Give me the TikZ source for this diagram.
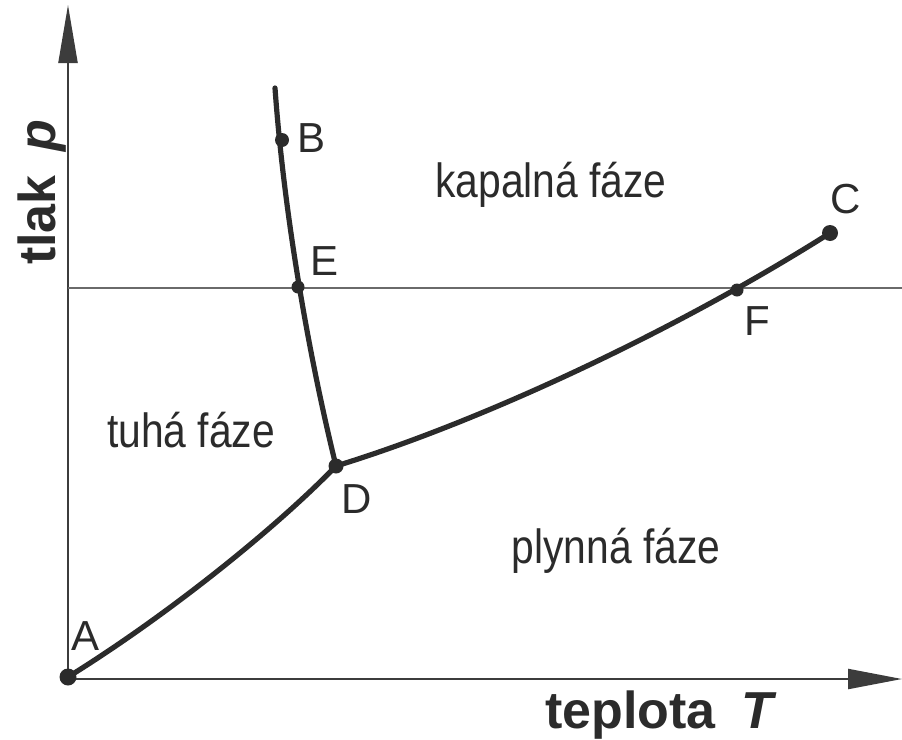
\documentclass[tikz,border=0pt]{standalone}
\usepackage{fontspec}
\setmainfont{Liberation Sans}
\newfontfamily\regfont[FakeStretch=0.85]{Liberation Sans}
\usetikzlibrary{arrows.meta}
\definecolor{ink}{HTML}{2B2B2B}
\definecolor{axisgrey}{HTML}{3C3C3C}
\definecolor{isogrey}{HTML}{6A6A6A}
\tikzset{
  dot/.style={circle,fill=ink,inner sep=0pt,minimum size=#1},
  dot/.default=14pt,
  phase/.style={draw=ink,line width=5.2pt,line cap=round},
  axisline/.style={draw=axisgrey,line width=2.2pt},
  ptlabel/.style={text=ink,inner sep=0pt,anchor=base,font=\fontsize{42}{48}\selectfont},
  region/.style={text=ink,inner sep=0pt,anchor=base,font=\regfont\fontsize{48}{54}\selectfont},
  axlabel/.style={text=ink,inner sep=0pt,font=\bfseries\fontsize{52}{58}\selectfont}
}
\begin{document}
\begin{tikzpicture}[x=1pt,y=-1pt]
\useasboundingbox (0,0) rectangle (902,739);
% axes
\coordinate (O) at (68,679);
\coordinate (xend) at (902,679);
\coordinate (yend) at (68,5);
\draw[axisline,-{Triangle[length=54pt,width=20pt]}] (O) -- (xend);
\draw[axisline,-{Triangle[length=58pt,width=19pt]}] (O) -- (yend);
% isobar
\coordinate (hl) at (68,288);
\coordinate (hr) at (902,288);
\draw[draw=isogrey,line width=2.2pt] (hl) -- (hr);
% curve points
\coordinate (pA) at (68,677);
\coordinate (pD) at (336,466);
\coordinate (pF) at (737,290);
\coordinate (pC) at (830,233);
\coordinate (btop) at (275,88);
\coordinate (pB) at (282,140);
\coordinate (pE) at (298,287);
% phase boundaries
\draw[phase] (pA) .. controls (168,615) and (276,528) .. (pD);
\draw[phase] (pD) .. controls (486,420) and (680,328) .. (pC);
\draw[phase] (btop) .. controls (283,200) and (305,340) .. (pD);
% points
\node[dot=17pt] (A) at (pA) {};
\node[dot=14pt] (B) at (pB) {};
\node[dot=16pt] (C) at (pC) {};
\node[dot=15pt] (D) at (pD) {};
\node[dot=13pt] (E) at (pE) {};
\node[dot=13pt] (F) at (pF) {};
% point labels
\node[ptlabel] (lA) at (86,650) {A};
\node[ptlabel] (lB) at (312,152) {B};
\node[ptlabel] (lC) at (846,213) {C};
\node[ptlabel] (lD) at (357,513) {D};
\node[ptlabel] (lE) at (325,275) {E};
\node[ptlabel] (lF) at (757,335) {F};
% regions
\node[region] (liq) at (551,197) {kapalná fáze};
\node[region] (sol) at (191,447) {tuhá fáze};
\node[region] (gas) at (616,563) {plynná fáze};
% axis labels
\node[axlabel,anchor=base west] (xl) at (545,728) {teplota\hspace{26pt}\textit{T}};
\node[axlabel,anchor=base west,rotate=90] (yl) at (55,265) {tlak\hspace{24pt}\textit{p}};
\end{tikzpicture}
\end{document}
